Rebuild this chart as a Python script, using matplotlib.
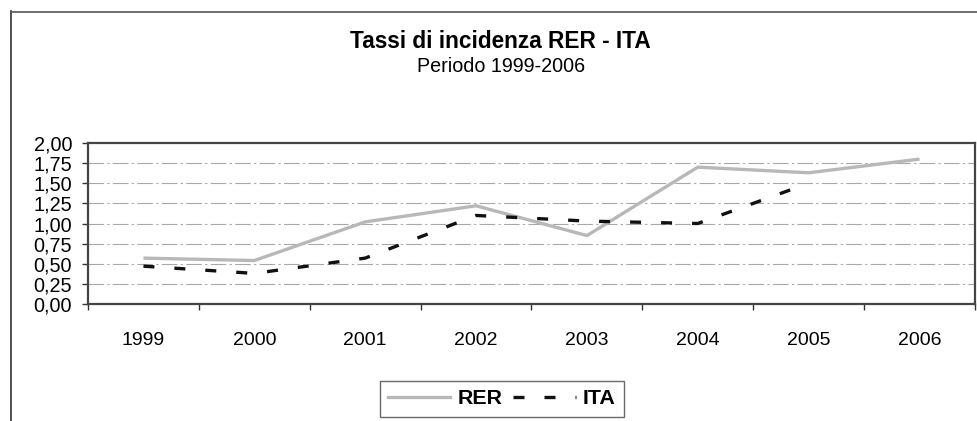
import matplotlib
matplotlib.use("Agg")
import matplotlib.pyplot as plt
from matplotlib.lines import Line2D
import numpy as np

years = ["1999", "2000", "2001", "2002", "2003", "2004", "2005", "2006"]
rer = [0.57, 0.54, 1.02, 1.22, 0.85, 1.70, 1.63, 1.80]
ita = [0.47, 0.38, 0.57, 1.10, 1.03, 1.00, 1.50, None]
yticks = [0.0, 0.25, 0.5, 0.75, 1.0, 1.25, 1.5, 1.75, 2.0]

plt.rcParams['font.family'] = ['Liberation Sans', 'DejaVu Sans']

fig = plt.figure(figsize=(9.78, 4.21), dpi=100)
ax = fig.add_axes([88/978, 1-304/421, (975-88)/978, (304-143)/421])

x = np.arange(len(years))
ita_arr = np.array([np.nan if v is None else v for v in ita], dtype=float)

for yv in yticks[1:-1]:
    ax.axhline(yv, color='#a8a8a8', lw=0.8, ls=(0, (14, 3, 2, 3)), zorder=1)

ax.plot(x, rer, color='#b8b8b8', lw=2.4, solid_capstyle='butt', zorder=3)
ax.plot(x, ita_arr, color='#111111', lw=2.4, ls=(0, (3.3, 6.0)),
        dash_capstyle='butt', zorder=4)

ax.set_xlim(-0.5, len(years) - 0.5)
ax.set_ylim(0, 2)
ax.set_yticks(yticks)
ax.set_yticklabels([f"{v:.2f}".replace('.', ',') for v in yticks], fontsize=14.3)
ax.set_xticks(np.arange(-0.5, len(years), 1.0))
ax.set_xticklabels([])
ax.set_xticks(x, minor=True)
ax.set_xticklabels(years, minor=True, fontsize=14)
ax.tick_params(axis='x', which='major', direction='out', length=4.5, width=1, color='#333333')
ax.tick_params(axis='x', which='minor', length=0, pad=20)
ax.tick_params(axis='y', direction='out', length=4, width=1, color='#333333', pad=7.5)
for s in ax.spines.values():
    s.set_color('#444444')
    s.set_linewidth(1.6)

fig.text(0.512, 1-42/421, "Tassi di incidenza RER - ITA", ha='center', va='center',
         fontsize=16.3, fontweight='bold')
fig.text(0.512, 1-67/421, "Periodo 1999-2006", ha='center', va='center', fontsize=14.2)

# chart-area border (left and top)
fig.add_artist(Line2D([11/978, 11/978], [0, 1-11/421], color='#333333', lw=1.2))
fig.add_artist(Line2D([11/978, 1], [1-12/421, 1-12/421], color='#555555', lw=1.2))

handles = [Line2D([], [], color='#b8b8b8', lw=2.4),
           Line2D([], [], color='#111111', lw=2.4, ls=(0, (3.3, 6.0)), dash_capstyle='butt')]
leg = fig.legend(handles, ["RER", "ITA"], loc='center', bbox_to_anchor=(502/978, 1-399/421),
                 ncol=2, frameon=True, fancybox=False, edgecolor='#444444',
                 prop={'weight': 'bold', 'size': 15.4}, handlelength=2.9,
                 columnspacing=0.5, handletextpad=0.35, borderpad=0.4)
leg.get_frame().set_linewidth(1.0)

fig.savefig("out.png", dpi=100)
